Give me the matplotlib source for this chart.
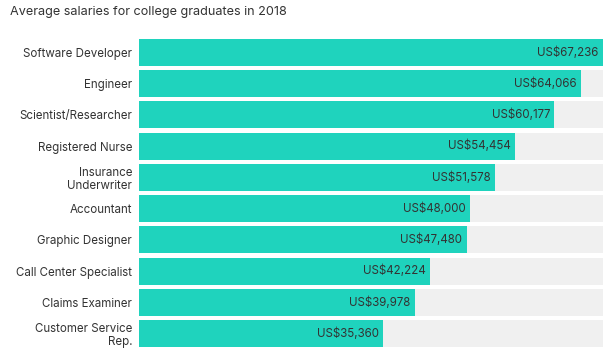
import matplotlib
matplotlib.use("Agg")
import matplotlib.pyplot as plt

categories = ["Software Developer", "Engineer", "Scientist/Researcher", "Registered Nurse",
              "Insurance\nUnderwriter", "Accountant", "Graphic Designer", "Call Center Specialist",
              "Claims Examiner", "Customer Service\nRep."]
salaries = [67236, 64066, 60177, 54454, 51578, 48000, 47480, 42224, 39978, 35360]
title = "Average salaries for college graduates in 2018"

plt.rcParams['font.family'] = ['Inter', 'DejaVu Sans']

fig = plt.figure(figsize=(6.09, 3.55), dpi=100)
W, H = 609, 355
top_px, bot_px = 39, 347
ax = fig.add_axes([139 / W, 1 - bot_px / H, (603 - 139) / W, (bot_px - top_px) / H])

n = len(categories)
h = 27 / 31.2
ymax = max(salaries)
pos = list(range(n))
ax.barh(pos, [ymax] * n, height=h, color="#f0f0f0", zorder=1)
ax.barh(pos, salaries, height=h, color="#1fd3bd", zorder=2)
for i, v in enumerate(salaries):
    ax.text(v - ymax * 0.009, i, f"US${v:,}", ha="right", va="center",
            fontsize=8.3, color="#333333", zorder=3)

ax.set_xlim(0, ymax)
ax.set_ylim(n - 1 + h / 2, -h / 2)
ax.set_yticks(pos)
ax.set_yticklabels(categories, fontsize=8.3, color="#333333", linespacing=1.15)
ax.tick_params(axis="y", length=0, pad=5)
ax.set_xticks([])
for s in ax.spines.values():
    s.set_visible(False)

fig.text(10 / W, 1 - 12 / H, title, fontsize=9.1, color="#333333", ha="left", va="center")

fig.savefig("out.png", dpi=100)
